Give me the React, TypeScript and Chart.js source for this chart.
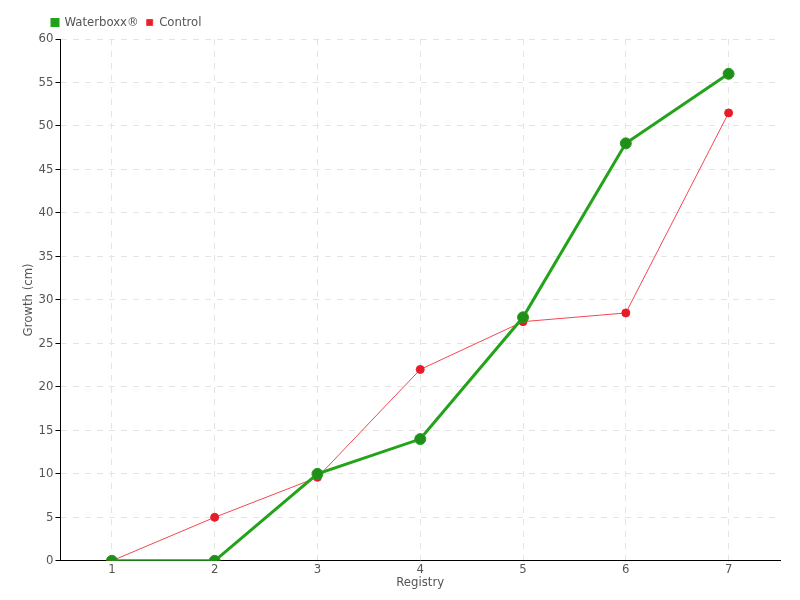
import React, { useEffect, useRef } from "react";
import { Chart, registerables } from "chart.js";

Chart.register(...registerables);

const categories = ["1", "2", "3", "4", "5", "6", "7"];
const waterboxx = [0, 0, 10, 14, 28, 48, 56];
const control = [0, 5, 9.6, 22, 27.5, 28.5, 51.5];

const FONT = "'Liberation Sans Narrow', 'DejaVu Sans Condensed', 'Roboto', sans-serif";

const legendShift = {
  id: "legendShift",
  afterLayout(chart: any) {
    if (chart.legend) {
      chart.legend.left += 23;
      chart.legend.right += 23;
    }
  },
};

export default function App() {
  const ref = useRef<HTMLCanvasElement>(null);
  useEffect(() => {
    document.body.style.margin = "0";
    const chart = new Chart(ref.current!, {
      type: "line",
      data: {
        labels: categories,
        datasets: [
          {
            label: "Waterboxx®",
            data: waterboxx,
            borderColor: "#22a31a",
            backgroundColor: "#1f9a1a",
            pointBackgroundColor: "#1f8f1a",
            pointBorderColor: "#2a9a22",
            borderWidth: 3,
            pointRadius: 5.5,
            pointBorderWidth: 1,
            tension: 0,
          },
          {
            label: "Control",
            data: control,
            borderColor: "rgba(240,40,50,0.85)",
            backgroundColor: "#e8202a",
            pointBackgroundColor: "#e81c28",
            pointBorderColor: "#e81c28",
            borderWidth: 1,
            pointRadius: 4,
            pointBorderWidth: 1,
            tension: 0,
          },
        ],
      },
      plugins: [legendShift],
      options: {
        animation: false,
        responsive: false,
        layout: { padding: { left: 21, right: 20, top: 8, bottom: 10 } },
        plugins: {
          legend: {
            position: "top",
            align: "start",
            labels: {
              boxWidth: 6,
              boxHeight: 6,
              padding: 8,
              color: "#555",
              font: { family: FONT, size: 13 },
            },
          },
          tooltip: { enabled: false },
        },
        scales: {
          x: {
            offset: true,
            grid: {
              offset: false,
              color: "#e4e4e4",
              tickColor: "#e4e4e4",
              tickLength: 1,
              drawOnChartArea: true,
            },
            border: { color: "#000", dash: [6, 6] as any },
            ticks: { color: "#555", font: { family: FONT, size: 13 }, padding: 0 },
            title: {
              display: true,
              text: "Registry",
              color: "#555",
              font: { family: FONT, size: 13 },
              padding: { top: -3, bottom: 0 },
            },
          },
          y: {
            min: 0,
            max: 60,
            ticks: { stepSize: 5, color: "#555", font: { family: FONT, size: 13 }, padding: 2 },
            grid: { color: "#e4e4e4", tickColor: "#000", tickLength: 5 },
            border: { color: "#000", dash: [6, 6] as any },
            title: {
              display: true,
              text: "Growth (cm)",
              color: "#555",
              font: { family: FONT, size: 13 },
              padding: 0,
            },
          },
        },
      },
    });
    return () => chart.destroy();
  }, []);
  return (
    <div style={{ width: 800, height: 600 }}>
      <canvas ref={ref} width={800} height={600} />
    </div>
  );
}
